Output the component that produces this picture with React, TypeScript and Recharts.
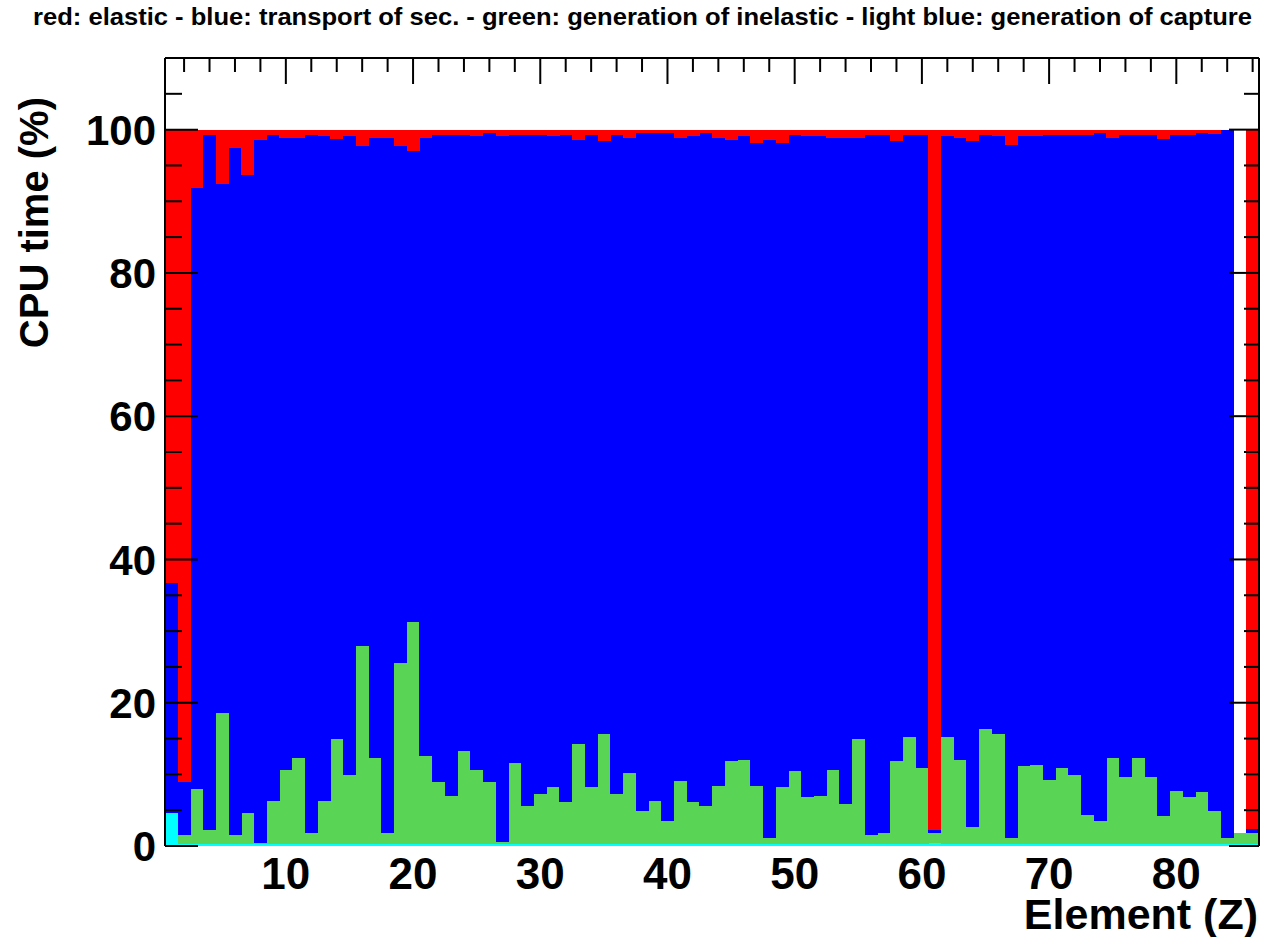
import { BarChart, Bar, XAxis, YAxis } from 'recharts';

// element number Z, one bin each
const elements = [
  1, 2, 3, 4, 5, 6, 7, 8, 9, 10, 11, 12, 13, 14, 15, 16, 17, 18, 19, 20,
  21, 22, 23, 24, 25, 26, 27, 28, 29, 30, 31, 32, 33, 34, 35, 36, 37, 38, 39, 40,
  41, 42, 43, 44, 45, 46, 47, 48, 49, 50, 51, 52, 53, 54, 55, 56, 57, 58, 59, 60,
  61, 62, 63, 64, 65, 66, 67, 68, 69, 70, 71, 72, 73, 74, 75, 76, 77, 78, 79, 80,
  81, 82, 83, 84, 85, 86,
];

// cumulative levels (%) of the stack
const captureLevel = [
  4.6, 0.3, 0.3, 0.3, 0.3, 0.3, 0.3, 0.3, 0.3, 0.3,
  0.3, 0.3, 0.3, 0.3, 0.3, 0.3, 0.3, 0.3, 0.3, 0.3,
  0.3, 0.3, 0.3, 0.3, 0.3, 0.3, 0.3, 0.3, 0.3, 0.3,
  0.3, 0.3, 0.3, 0.3, 0.3, 0.3, 0.3, 0.3, 0.3, 0.3,
  0.3, 0.3, 0.3, 0.3, 0.3, 0.3, 0.3, 0.3, 0.3, 0.3,
  0.3, 0.3, 0.3, 0.3, 0.3, 0.3, 0.3, 0.3, 0.3, 0.3,
  0.4, 0.3, 0.3, 0.3, 0.3, 0.3, 0.3, 0.3, 0.3, 0.3,
  0.3, 0.3, 0.3, 0.3, 0.3, 0.3, 0.3, 0.3, 0.3, 0.3,
  0.3, 0.3, 0.3, 0.3, 0.3, 0.3,
];

const inelasticLevel = [
  4.6, 1.5, 8.0, 2.2, 18.6, 1.5, 4.6, 0.4, 6.3, 10.6,
  12.3, 1.8, 6.3, 14.9, 9.9, 27.9, 12.3, 1.8, 25.5, 31.2,
  12.5, 9.0, 7.0, 13.2, 10.6, 8.9, 0.5, 11.6, 5.6, 7.2,
  8.2, 6.1, 14.2, 8.2, 15.6, 7.3, 10.2, 4.9, 6.3, 3.5,
  9.1, 6.1, 5.6, 8.4, 11.8, 12.0, 8.4, 1.1, 8.2, 10.4,
  6.8, 7.0, 10.6, 5.8, 14.9, 1.5, 1.8, 11.8, 15.2, 10.9,
  1.8, 15.2, 12.0, 2.7, 16.3, 15.6, 1.1, 11.1, 11.3, 9.2,
  10.9, 9.9, 4.3, 3.5, 12.3, 9.7, 12.3, 9.7, 4.2, 7.7,
  6.8, 7.5, 4.9, 1.1, 1.8, 1.8,
];

const transportLevel = [
  36.7, 9.0, 91.9, 99.3, 92.4, 97.4, 93.6, 98.6, 99.3, 98.9,
  98.9, 99.3, 99.1, 98.7, 99.1, 97.7, 98.9, 98.9, 97.7, 97.0,
  98.9, 99.3, 99.3, 99.3, 99.1, 99.5, 99.1, 99.3, 99.3, 99.3,
  99.1, 99.3, 98.6, 99.3, 98.4, 99.3, 98.8, 99.5, 99.5, 99.5,
  98.8, 99.1, 99.5, 98.8, 98.6, 99.1, 98.1, 98.6, 98.1, 99.3,
  99.1, 99.1, 98.8, 98.8, 98.9, 99.2, 99.3, 98.4, 99.3, 99.3,
  2.2, 99.1, 98.8, 98.4, 99.3, 99.1, 97.9, 99.1, 99.1, 99.3,
  99.2, 99.2, 99.2, 99.6, 98.9, 99.2, 99.2, 99.2, 98.7, 99.3,
  99.3, 99.6, 99.4, 100, 1.8, 2.4,
];

const elasticLevel = [
  100, 100, 100, 100, 100, 100, 100, 100, 100, 100,
  100, 100, 100, 100, 100, 100, 100, 100, 100, 100,
  100, 100, 100, 100, 100, 100, 100, 100, 100, 100,
  100, 100, 100, 100, 100, 100, 100, 100, 100, 100,
  100, 100, 100, 100, 100, 100, 100, 100, 100, 100,
  100, 100, 100, 100, 100, 100, 100, 100, 100, 100,
  100, 100, 100, 100, 100, 100, 100, 100, 100, 100,
  100, 100, 100, 100, 100, 100, 100, 100, 100, 100,
  100, 100, 100, 100, 1.8, 100,
];

const xLabelTicks = [10, 20, 30, 40, 50, 60, 70, 80];
const xMinorTicks = [
  2, 4, 6, 8, 10, 12, 14, 16, 18, 20, 22, 24, 26, 28, 30, 32, 34, 36, 38, 40, 42, 44,
  46, 48, 50, 52, 54, 56, 58, 60, 62, 64, 66, 68, 70, 72, 74, 76, 78, 80, 82, 84, 86,
];
const yTicks = [0, 5, 10, 15, 20, 25, 30, 35, 40, 45, 50, 55, 60, 65, 70, 75, 80, 85, 90, 95, 100, 105, 110];

const rows = elements.map((z, i) => ({
  z,
  capture: captureLevel[i],
  inelastic: inelasticLevel[i] - captureLevel[i],
  transport: transportLevel[i] - inelasticLevel[i],
  elastic: elasticLevel[i] - transportLevel[i],
}));

const FONT = '"Liberation Sans", Arial, Helvetica, sans-serif';

const BottomTick = (props: any) => {
  const { x, y, payload } = props;
  return (
    <text x={x} y={y + 43} textAnchor="middle" fontFamily={FONT} fontWeight="bold" fontSize={44} fill="#000">
      {payload.value}
    </text>
  );
};

const TopTick = (props: any) => {
  const { x, y, payload } = props;
  const len = payload.value % 10 === 0 ? 26 : 14;
  return <line x1={x} x2={x} y1={y} y2={y + len} stroke="#000" strokeWidth={2} />;
};

const LeftTick = (props: any) => {
  const { x, y, payload } = props;
  const v = payload.value;
  const major = v % 20 === 0;
  return (
    <g>
      <line x1={x} x2={x + (major ? 33 : 17)} y1={y} y2={y} stroke="#000" strokeWidth={2} />
      {major && v <= 100 && (
        <text x={x - 9} y={y} dy="0.36em" textAnchor="end" fontFamily={FONT} fontWeight="bold" fontSize={42} fill="#000">
          {v}
        </text>
      )}
    </g>
  );
};

const RightTick = (props: any) => {
  const { x, y, payload } = props;
  const len = payload.value % 20 === 0 ? 30 : 15;
  return <line x1={x} x2={x - len} y1={y} y2={y} stroke="#000" strokeWidth={2} />;
};

const frameLine = { stroke: '#000', strokeWidth: 2 };

export default function App() {
  return (
    <div style={{ position: 'relative', width: 1261, height: 937, background: '#fff' }}>
      <style>{'body{margin:0} .recharts-bar-rectangle path{shape-rendering:crispEdges}'}</style>
      <BarChart
        width={1261}
        height={937}
        data={rows}
        margin={{ top: 57, right: 1, bottom: 31, left: 65 }}
        barCategoryGap={0}
        barGap={0}
      >
        <Bar dataKey="capture" stackId="s" fill="#00ffff" isAnimationActive={false} />
        <Bar dataKey="inelastic" stackId="s" fill="#59d454" isAnimationActive={false} />
        <Bar dataKey="transport" stackId="s" fill="#0000ff" isAnimationActive={false} />
        <Bar dataKey="elastic" stackId="s" fill="#ff0000" isAnimationActive={false} />
        <XAxis
          dataKey="z"
          type="category"
          height={60}
          ticks={xLabelTicks}
          interval={0}
          tickSize={0}
          tickMargin={0}
          tickLine={false}
          axisLine={false}
          tick={BottomTick}
        />
        <XAxis
          xAxisId="top"
          dataKey="z"
          type="category"
          orientation="top"
          height={1}
          ticks={xMinorTicks}
          interval={0}
          tickSize={0}
          tickMargin={0}
          tickLine={false}
          axisLine={frameLine}
          tick={TopTick}
        />
        <YAxis
          type="number"
          domain={[0, 110]}
          allowDataOverflow
          width={100}
          ticks={yTicks}
          interval={0}
          tickSize={0}
          tickMargin={0}
          tickLine={false}
          axisLine={frameLine}
          tick={LeftTick}
        />
        <YAxis
          yAxisId="right"
          orientation="right"
          type="number"
          domain={[0, 110]}
          allowDataOverflow
          width={1}
          ticks={yTicks}
          interval={0}
          tickSize={0}
          tickMargin={0}
          tickLine={false}
          axisLine={frameLine}
          tick={RightTick}
        />
      </BarChart>
      <svg
        width={1261}
        height={937}
        style={{ position: 'absolute', left: 0, top: 0, pointerEvents: 'none' }}
      >
        <text
          x={33}
          y={25}
          textLength={1219}
          lengthAdjust="spacingAndGlyphs"
          fontFamily={FONT}
          fontWeight="bold"
          fontSize={24}
          fill="#000"
        >
          red: elastic - blue: transport of sec. - green: generation of inelastic - light blue: generation of capture
        </text>
        <text x={1258} y={929} textAnchor="end" fontFamily={FONT} fontWeight="bold" fontSize={43} fill="#000">
          Element (Z)
        </text>
        <text
          transform="translate(48,97) rotate(-90)"
          textAnchor="end"
          fontFamily={FONT}
          fontWeight="bold"
          fontSize={40}
          fill="#000"
        >
          CPU time (%)
        </text>
      </svg>
    </div>
  );
}
